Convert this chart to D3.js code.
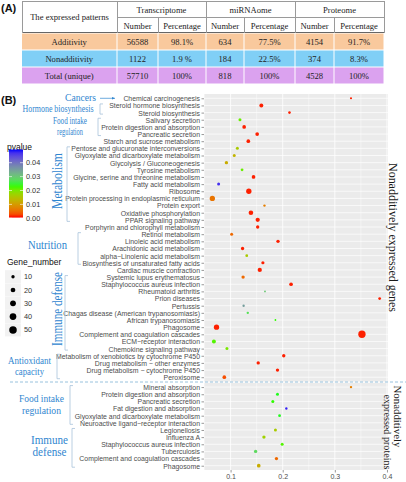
<!DOCTYPE html>
<html><head><meta charset="utf-8">
<script src="https://cdn.jsdelivr.net/npm/d3@7"></script>
<style>body{margin:0;background:#fff}svg{display:block}</style>
</head><body>
<svg id="c" width="406" height="482"></svg>
<script>
// ---------- DATA ----------
const omics = ["Transcriptome", "miRNAome", "Proteome"];
const subHeaders = ["Number", "Percentage"];
const patterns = ["Additivity", "Nonadditivity", "Total (unique)"];
const additivityRow = ["56588", "98.1%", "634", "77.5%", "4154", "91.7%"];
const nonadditivityRow = ["1122", "1.9 %", "184", "22.5%", "374", "8.3%"];
const totalRow = ["57710", "100%", "818", "100%", "4528", "100%"];
const rowFills = ["#f9c99d", "#80cff6", "#dba2ef"];

const genePathways = ["Chemical carcinogenesis","Steroid hormone biosynthesis","Steroid biosynthesis","Salivary secretion","Protein digestion and absorption","Pancreatic secretion","Starch and sucrose metabolism","Pentose and glucuronate interconversions","Glyoxylate and dicarboxylate metabolism","Glycolysis / Gluconeogenesis","Tyrosine metabolism","Glycine, serine and threonine metabolism","Fatty acid metabolism","Ribosome","Protein processing in endoplasmic reticulum","Protein export","Oxidative phosphorylation","PPAR signaling pathway","Porphyrin and chlorophyll metabolism","Retinol metabolism","Linoleic acid metabolism","Arachidonic acid metabolism","alpha\u2212Linolenic acid metabolism","Biosynthesis of unsaturated fatty acids","Cardiac muscle contraction","Systemic lupus erythematosus","Staphylococcus aureus infection","Rheumatoid arthritis","Prion diseases","Pertussis","Chagas disease (American trypanosomiasis)","African trypanosomiasis","Phagosome","Complement and coagulation cascades","ECM\u2212receptor interaction","Chemokine signaling pathway","Metabolism of xenobiotics by cytochrome P450","Drug metabolism \u2212 other enzymes","Drug metabolism \u2212 cytochrome P450","Peroxisome"];
const geneRatio = [0.331,0.159,0.213,0.118,0.126,0.151,0.134,0.113,0.107,0.092,0.122,0.144,0.077,0.135,0.065,0.165,0.139,0.152,0.152,0.102,0.191,0.123,0.131,0.162,0.156,0.124,0.216,0.166,0.386,0.125,0.133,0.186,0.073,0.352,0.068,0.093,0.202,0.153,0.190,0.088];
const geneCount = [4,14,6,8,12,12,12,8,8,10,7,12,8,25,25,5,19,16,10,8,10,10,7,9,16,10,12,3,7,5,5,3,25,48,14,8,10,10,10,12];
const genePvalue = [0.001,0.001,0.001,0.021,0.001,0.001,0.001,0.016,0.013,0.012,0.021,0.001,0.047,0.001,0.006,0.007,0.001,0.001,0.001,0.005,0.001,0.001,0.016,0.001,0.001,0.005,0.001,0.030,0.001,0.035,0.027,0.023,0.001,0.001,0.022,0.020,0.001,0.001,0.001,0.003];

const proteinPathways = ["Mineral absorption","Protein digestion and absorption","Pancreatic secretion","Fat digestion and absorption","Glyoxylate and dicarboxylate metabolism","Neuroactive ligand\u2212receptor interaction","Legionellosis","Influenza A","Staphylococcus aureus infection","Tuberculosis","Complement and coagulation cascades","Phagosome"];
const proteinRatio = [0.331,0.190,0.181,0.207,0.194,null,0.186,0.164,0.199,0.148,0.188,0.154];
const proteinCount = [5,8,8,5,7,null,8,10,8,10,10,12];
const proteinPvalue = [0.007,0.024,0.023,0.048,0.024,null,0.016,0.017,0.022,0.028,0.005,0.012];

const facetLabels = [["Nonadditively expressed genes"], ["Nonadditively", "expressed proteins"]];
const xTicks = [0.1, 0.2, 0.3, 0.4];
const pvalueTicks = [0.00, 0.01, 0.02, 0.03, 0.04];
const sizeBreaks = [10, 20, 30, 40, 50];

// group annotations: label lines, facet, first row, last row
const groupLabels = [
  {lines:["Cancers"], facet:0, from:0, to:0, kind:"arrow"},
  {lines:["Hormone biosynthesis"], facet:0, from:1, to:2},
  {lines:["Food intake","regulation"], facet:0, from:3, to:5},
  {lines:["Metabolism"], facet:0, from:7, to:17, rotate:true},
  {lines:["Nutrition"], facet:0, from:19, to:23},
  {lines:["Immune defense"], facet:0, from:25, to:35, rotate:true},
  {lines:["Antioxidant","capacity"], facet:0, from:36, to:39},
  {lines:["Food intake","regulation"], facet:1, from:0, to:5},
  {lines:["Immune","defense"], facet:1, from:6, to:11}
];

// ---------- LAYOUT ----------
const svg = d3.select("#c");
const serif = "'Liberation Serif','Times New Roman',serif";
const sans = "'Liberation Sans',Arial,sans-serif";

// ----- Table (A) -----
svg.append("text").attr("x", 1).attr("y", 12).attr("font-family", sans).attr("font-weight", "bold")
  .attr("font-size", 11).attr("fill", "#111").text("(A)");
const colX = [22, 117, 158, 206, 244, 295, 334, 384];
const rowY = [1, 17, 33, 50, 67, 84];
const tab = svg.append("g");
const lineC = "#9a9a9a";
tab.append("line").attr("x1", colX[0]).attr("x2", colX[7]).attr("y1", rowY[0]+0.5).attr("y2", rowY[0]+0.5).attr("stroke", lineC);
tab.append("line").attr("x1", colX[1]).attr("x2", colX[7]).attr("y1", rowY[1]+0.5).attr("y2", rowY[1]+0.5).attr("stroke", lineC);
tab.append("line").attr("x1", colX[0]).attr("x2", colX[7]).attr("y1", rowY[2]-0.5).attr("y2", rowY[2]-0.5).attr("stroke", "#666");
[0,1,3,5,7].forEach(i => tab.append("line").attr("x1", colX[i]+0.5).attr("x2", colX[i]+0.5)
  .attr("y1", rowY[0]).attr("y2", rowY[2]).attr("stroke", lineC));
[2,4,6].forEach(i => tab.append("line").attr("x1", colX[i]+0.5).attr("x2", colX[i]+0.5)
  .attr("y1", rowY[1]).attr("y2", rowY[2]).attr("stroke", lineC));
const tfs = 8.6;
tab.append("text").attr("x", (colX[0]+colX[1])/2).attr("y", (rowY[0]+rowY[2])/2).attr("dy", "0.35em")
  .attr("text-anchor", "middle").attr("font-family", serif).attr("font-size", tfs).attr("fill", "#222").text("The expressed patterns");
omics.forEach((o, i) => {
  tab.append("text").attr("x", (colX[1+2*i]+colX[3+2*i])/2).attr("y", (rowY[0]+rowY[1])/2+1).attr("dy", "0.35em")
    .attr("text-anchor", "middle").attr("font-family", serif).attr("font-size", tfs).attr("fill", "#222").text(o);
  subHeaders.forEach((s, j) => {
    tab.append("text").attr("x", (colX[1+2*i+j]+colX[2+2*i+j])/2).attr("y", (rowY[1]+rowY[2])/2+0.5).attr("dy", "0.35em")
      .attr("text-anchor", "middle").attr("font-family", serif).attr("font-size", tfs).attr("fill", "#222").text(s);
  });
});
const bodyRows = [additivityRow, nonadditivityRow, totalRow];
bodyRows.forEach((row, r) => {
  const y0 = rowY[2+r] + 0.5, y1 = rowY[3+r] - 0.5;
  const cells = [patterns[r]].concat(row);
  cells.forEach((txt, c) => {
    const x0 = colX[c] + (c === 0 ? 0 : 0.5), x1 = colX[c+1] - 0.5;
    tab.append("rect").attr("x", x0).attr("y", y0).attr("width", x1-x0).attr("height", y1-y0).attr("fill", rowFills[r]);
    tab.append("text").attr("x", (x0+x1)/2).attr("y", (y0+y1)/2).attr("dy", "0.35em").attr("text-anchor", "middle")
      .attr("font-family", serif).attr("font-size", tfs).attr("fill", "#222").text(txt);
  });
});

// ----- Plot (B) -----
svg.append("text").attr("x", 1).attr("y", 104).attr("font-family", sans).attr("font-weight", "bold")
  .attr("font-size", 11).attr("fill", "#111").text("(B)");

const px0 = 204, px1 = 388;
const x = d3.scaleLinear().domain([0.049, 0.402]).range([px0, px1]);
const panels = [
  {names: genePathways, ratio: geneRatio, count: geneCount, p: genePvalue, top: 94, bottom: 381.5},
  {names: proteinPathways, ratio: proteinRatio, count: proteinCount, p: proteinPvalue, top: 382.8, bottom: 470}
];
const color = d3.scaleLinear().domain([0.0005, 0.0235, 0.0495]).range(["#ff0000", "#00ff00", "#0000ff"])
  .interpolate(d3.interpolateLab).clamp(true);
const size = d3.scaleSqrt().domain([0, 50]).range([0, 3.75]);

const stripLayout = [[{cx: 393.5, cy: 237.5, len: 149}], [{cx: 397.5, cy: 416.5, len: 62}, {cx: 387.5, cy: 432, len: 75}]];

panels.forEach((pn, k) => {
  const idx = pn.names.map((_, i) => i);
  pn.y = d3.scalePoint().domain(idx).range([pn.top, pn.bottom]).padding(0.6);
  const g = svg.append("g");
  g.append("rect").attr("x", px0).attr("y", pn.top).attr("width", px1-px0).attr("height", pn.bottom-pn.top).attr("fill", "#ebebeb");
  [0.05, 0.15, 0.25, 0.35].forEach(v => g.append("line").attr("x1", x(v)).attr("x2", x(v)).attr("y1", pn.top).attr("y2", pn.bottom)
    .attr("stroke", "#fff").attr("stroke-width", 0.4));
  xTicks.forEach(v => g.append("line").attr("x1", x(v)).attr("x2", x(v)).attr("y1", pn.top).attr("y2", pn.bottom)
    .attr("stroke", "#fff").attr("stroke-width", 0.8));
  idx.forEach(i => g.append("line").attr("x1", px0).attr("x2", px1).attr("y1", pn.y(i)).attr("y2", pn.y(i))
    .attr("stroke", "#fff").attr("stroke-width", 0.7));
  const ax = d3.axisLeft(pn.y).tickSize(2.5).tickPadding(1.5).tickFormat(i => pn.names[i]);
  const ag = g.append("g").attr("transform", `translate(${px0},0)`).call(ax);
  ag.select(".domain").remove();
  ag.selectAll("line").attr("stroke", "#333").attr("stroke-width", 0.5);
  ag.selectAll("text").attr("font-family", sans).attr("font-size", 6.9).attr("fill", "#4d4d4d").attr("dy", "0.35em");
  g.selectAll("circle.pt").data(idx.filter(i => pn.ratio[i] != null)).join("circle")
    .attr("cx", i => x(pn.ratio[i])).attr("cy", i => pn.y(i)).attr("r", i => size(pn.count[i]))
    .attr("fill", i => color(pn.p[i]));
  facetLabels[k].forEach((t, j) => {
    const S = stripLayout[k][j];
    g.append("text").attr("transform", `translate(${S.cx},${S.cy}) rotate(90)`).attr("text-anchor", "middle").attr("dy", "0.35em")
      .attr("font-family", serif).attr("font-size", k === 0 ? 12 : 10.5).attr("textLength", S.len).attr("lengthAdjust", "spacingAndGlyphs")
      .attr("fill", "#1a1a1a").text(t);
  });
});
const xa = d3.axisBottom(x).tickValues(xTicks).tickSize(2.5).tickPadding(1.5).tickFormat(d3.format(".1f"));
const xg = svg.append("g").attr("transform", `translate(0,${panels[1].bottom})`).call(xa);
xg.select(".domain").remove();
xg.selectAll("line").attr("stroke", "#333").attr("stroke-width", 0.5);
xg.selectAll("text").attr("font-family", sans).attr("font-size", 7).attr("fill", "#4d4d4d");

svg.append("line").attr("x1", 10).attr("x2", 406).attr("y1", 382).attr("y2", 382)
  .attr("stroke", "#8dbbd9").attr("stroke-width", 0.9).attr("stroke-dasharray", "3,2");

const blue = "#2f86d0", brC = "#a8c3da";
const labelLayout = [
  {x: 96, y: 97.5, fs: 11, anchor: "end", len: [31], bx: 100},
  {x: 93.5, y: 108.5, fs: 9.5, anchor: "end", len: [71], bx: 100},
  {x: 70, y: 121, fs: 10.5, lh: 10.5, len: [34, 26], bx: 98},
  {x: 57, y: 181, fs: 15.5, len: [56], bx: 67},
  {x: 47.5, y: 245, fs: 13.5, len: [39], bx: 78},
  {x: 57, y: 309, fs: 14.5, len: [74], bx: 65},
  {x: 29.5, y: 361, fs: 9.5, lh: 10.5, len: [43, 29], bx: 57},
  {x: 41.5, y: 399, fs: 10.5, lh: 11.5, len: [45, 39], bx: 70},
  {x: 49.5, y: 440, fs: 11.5, lh: 12.5, len: [37, 34], bx: 72}
];
groupLabels.forEach((gl, k) => {
  const L = labelLayout[k];
  const ys = panels[gl.facet].y;
  if (gl.rotate) {
    svg.append("text").attr("transform", `translate(${L.x},${L.y}) rotate(-90)`).attr("text-anchor", "middle").attr("dy", "0.35em")
      .attr("font-family", serif).attr("font-size", L.fs).attr("textLength", L.len[0]).attr("lengthAdjust", "spacingAndGlyphs")
      .attr("fill", blue).text(gl.lines[0]);
  } else {
    gl.lines.forEach((t, j) => svg.append("text").attr("x", L.x).attr("y", L.y + j * (L.lh || 0)).attr("dy", "0.32em")
      .attr("text-anchor", L.anchor || "middle").attr("font-family", serif).attr("font-size", L.fs)
      .attr("textLength", L.len[j]).attr("lengthAdjust", "spacingAndGlyphs").attr("fill", blue).text(t));
  }
  if (gl.kind === "arrow") {
    const yy = ys(gl.from);
    svg.append("line").attr("x1", L.bx).attr("x2", 115).attr("y1", yy).attr("y2", yy).attr("stroke", blue).attr("stroke-width", 0.7);
    svg.append("path").attr("d", `M115,${yy} l-3,-1.3 l0,2.6 z`).attr("fill", blue);
  } else {
    const y0 = ys(gl.from) - 1.5, y1 = ys(gl.to) + 1.5;
    svg.append("path").attr("d", `M${L.bx+3},${y0} H${L.bx} V${y1} H${L.bx+3}`).attr("fill", "none")
      .attr("stroke", brC).attr("stroke-width", 0.8);
  }
});

const lg = svg.append("g");
lg.append("text").attr("x", 7).attr("y", 150).attr("font-family", sans).attr("font-size", 8.5).attr("fill", "#111").text("pvalue");
const pv = d3.scaleLinear().domain([0, 0.04]).range([218.3, 162.7]);
const barTop = pv(0.0495), barBot = pv(0.0005);
const grad = svg.append("defs").append("linearGradient").attr("id", "pg").attr("x1", 0).attr("x2", 0).attr("y1", 1).attr("y2", 0);
d3.range(0, 21).forEach(i => {
  const v = 0.0005 + (0.0495 - 0.0005) * i / 20;
  grad.append("stop").attr("offset", i / 20).attr("stop-color", color(v));
});
lg.append("rect").attr("x", 9).attr("y", barTop).attr("width", 14).attr("height", barBot - barTop).attr("fill", "url(#pg)");
pvalueTicks.forEach(v => {
  lg.append("line").attr("x1", 9).attr("x2", 12).attr("y1", pv(v)).attr("y2", pv(v)).attr("stroke", "#fff").attr("stroke-width", 0.6);
  lg.append("line").attr("x1", 20).attr("x2", 23).attr("y1", pv(v)).attr("y2", pv(v)).attr("stroke", "#fff").attr("stroke-width", 0.6);
  lg.append("text").attr("x", 26).attr("y", pv(v)).attr("dy", "0.35em").attr("font-family", sans).attr("font-size", 7.3)
    .attr("fill", "#333").text(v.toFixed(2));
});
lg.append("text").attr("x", 7).attr("y", 265).attr("font-family", sans).attr("font-size", 8.5).attr("fill", "#111").text("Gene_number");
sizeBreaks.forEach((b, i) => {
  const cy = 276.7 + i * 13.3;
  lg.append("rect").attr("x", 5).attr("y", cy - 6.5).attr("width", 16).attr("height", 13).attr("fill", "#f2f2f2");
  lg.append("circle").attr("cx", 13).attr("cy", cy).attr("r", size(b)).attr("fill", "#000");
  lg.append("text").attr("x", 24).attr("y", cy).attr("dy", "0.35em").attr("font-family", sans).attr("font-size", 7.3)
    .attr("fill", "#333").text(b);
});
</script>
</body></html>
